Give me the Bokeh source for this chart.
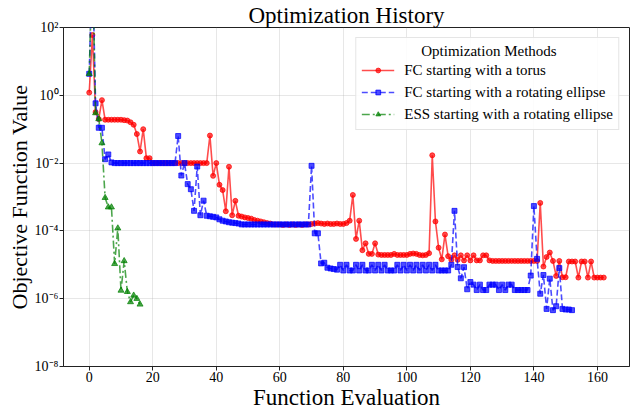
from bokeh.plotting import figure
from bokeh.models import (Range1d, FixedTicker, CustomJSTickFormatter,
                          Legend, LegendItem)
from bokeh.embed import file_html
from bokeh.resources import INLINE

FONT = "Liberation Serif"

# ---------------- data ----------------
title_text = "Optimization History"
x_label_text = "Function Evaluation"
y_label_text = "Objective Function Value"
legend_title = "Optimization Methods"
series_names = ["FC starting with a torus",
                "FC starting with a rotating ellipse",
                "ESS starting with a rotating ellipse"]

x_ticks = [0, 20, 40, 60, 80, 100, 120, 140, 160]
y_ticks = [1e-8, 1e-6, 1e-4, 1e-2, 1e0, 1e2]
y_tick_labels = ["10\u207b\u2078", "10\u207b\u2076", "10\u207b\u2074",
                 "10\u207b\u00b2", "10\u2070", "10\u00b2"]

# FC starting with a torus (evaluations 0..162)
torus_vals = [
    1.2, 60, 0.32, 0.2, 0.72, 0.19, 0.19, 0.19, 0.19, 0.19,
    0.19, 0.185, 0.18, 0.16, 0.135, 0.072, 0.022, 0.1, 0.014, 0.014,
    0.01, 0.01, 0.01, 0.01, 0.01, 0.01, 0.01, 0.01, 0.01, 0.01,
    0.01, 0.01, 0.01, 0.01, 0.01, 0.01, 0.01, 0.01, 0.065, 0.0042,
    0.01, 0.0023, 0.0016, 0.00038, 0.0078, 0.00029, 0.00077, 0.00028, 0.000265, 0.00025,
    0.00024, 0.00023, 0.00021, 0.0002, 0.00019, 0.00018, 0.00017, 0.000165, 0.000155, 0.000155,
    0.000155, 0.00015, 0.000155, 0.00015, 0.000155, 0.00015, 0.000155, 0.00015, 0.000155, 0.000155,
    0.00016, 0.000165, 0.00017, 0.000165, 0.00016, 0.000165, 0.00016, 0.00016, 0.000165, 0.00016,
    0.00016, 0.00017, 0.0002, 0.00115, 5.8e-05, 0.0002, 2.7e-05, 4.3e-05, 2.1e-05, 2.1e-05,
    4.3e-05, 2.0e-05, 1.95e-05, 1.95e-05, 1.95e-05, 1.95e-05, 2.1e-05, 1.95e-05, 1.95e-05, 1.95e-05,
    1.95e-05, 2.1e-05, 2.15e-05, 2.1e-05, 1.95e-05, 1.9e-05, 1.95e-05, 2.2e-05, 0.017, 0.00019,
    3.2e-05, 1.45e-05, 7.8e-05, 1.8e-05, 1.4e-05, 1.9e-05, 1.4e-05, 1.9e-05, 1.35e-05, 1.9e-05,
    1.35e-05, 1.9e-05, 1.35e-05, 1.35e-05, 1.9e-05, 1.9e-05, 1.35e-05, 1.3e-05, 1.3e-05, 1.3e-05,
    1.3e-05, 1.3e-05, 1.3e-05, 1.3e-05, 1.3e-05, 1.3e-05, 1.3e-05, 1.3e-05, 1.3e-05, 1.3e-05,
    1.3e-05, 1.3e-05, 0.00067, 8.9e-06, 1.7e-05, 2.3e-05, 1.3e-05, 4.7e-06, 1.3e-05, 4.3e-06,
    4.3e-06, 1.25e-05, 1.25e-05, 1.25e-05, 4.2e-06, 1.25e-05, 1.25e-05, 4.2e-06, 1.25e-05, 4.2e-06,
    4.2e-06, 4.2e-06, 4.2e-06,
]

# FC starting with a rotating ellipse (evaluations 0..152)
ellipse_vals = [
    4.3, 1e4, 0.58, 0.11, 0.11, 0.013, 0.018, 0.0105, 0.01, 0.01,
    0.01, 0.01, 0.01, 0.01, 0.01, 0.01, 0.01, 0.01, 0.01, 0.01,
    0.01, 0.01, 0.01, 0.01, 0.01, 0.01, 0.01, 0.01, 0.063, 0.0043,
    0.01, 0.0024, 0.0017, 0.00039, 0.0079, 0.00029, 0.00078, 0.00028, 0.00027, 0.00026,
    0.00025, 0.00022, 0.0002, 0.00019, 0.00018, 0.000175, 0.00017, 0.000165, 0.000155, 0.000155,
    0.000155, 0.000155, 0.000155, 0.000155, 0.000155, 0.000155, 0.000155, 0.000155, 0.000155, 0.000155,
    0.000155, 0.000155, 0.000155, 0.000155, 0.000155, 0.000155, 0.000155, 0.000155, 0.000155, 0.000155,
    0.0083, 8.5e-05, 8.5e-05, 1.1e-05, 1.15e-05, 8.2e-06, 7.8e-06, 7.5e-06, 7.2e-06, 1e-05,
    6.8e-06, 1e-05, 6.8e-06, 6.8e-06, 1e-05, 6.8e-06, 1e-05, 6.8e-06, 6.8e-06, 1e-05,
    6.8e-06, 1e-05, 6.8e-06, 1e-05, 6.8e-06, 6.8e-06, 6.8e-06, 1e-05, 6.8e-06, 1e-05,
    6.8e-06, 1e-05, 6.8e-06, 1e-05, 6.8e-06, 1e-05, 6.8e-06, 1e-05, 6.8e-06, 1e-05,
    6.8e-06, 6.8e-06, 6.8e-06, 6.8e-06, 1e-05, 0.00039, 8.6e-06, 4e-06, 8.5e-06, 1.9e-06,
    3.1e-06, 2.6e-06, 1.8e-06, 2.6e-06, 1.8e-06, 1.8e-06, 2.6e-06, 2.6e-06, 2.6e-06, 1.8e-06,
    2.6e-06, 1.8e-06, 2.6e-06, 2.6e-06, 1.8e-06, 1.8e-06, 1.8e-06, 1.8e-06, 1.8e-06, 4.8e-06,
    0.00054, 1.5e-05, 1.4e-06, 5e-06, 5e-07, 3.9e-06, 4.6e-07, 6e-07, 8e-06, 5e-07,
    4.8e-07, 4.8e-07, 4.6e-07,
]

# ESS starting with a rotating ellipse (evaluations 0..16)
ess_vals = [
    4.3, 1e4, 0.3, 0.2, 0.039, 0.00095, 0.0005, 0.0005, 1.07e-05, 0.00012,
    1.75e-06, 1.3e-05, 1.6e-06, 8e-07, 1.25e-06, 1e-06, 6.8e-07,
]

series_vals = [torus_vals, ellipse_vals, ess_vals]
colors = ["red", "blue", "green"]
markers = ["circle", "square", "triangle"]
dashes = ["solid", "6 3", "8 3 2 3"]
msizes = [5, 5, 6]

# ---------------- figure ----------------
X0, X1 = -8.1, 170.1
p = figure(width=634, height=415, x_range=Range1d(X0, X1),
           y_range=Range1d(1e-8, 1e2), y_axis_type="log",
           output_backend="svg", toolbar_location=None,
           min_border_left=63, min_border_right=5,
           min_border_top=26, min_border_bottom=49)
p.background_fill_color = "white"
p.border_fill_color = "white"
p.outline_line_color = "#222222"
p.outline_line_width = 1

p.title.text = title_text
p.title.align = "center"
p.title.text_font = FONT
p.title.text_font_size = "23px"
p.title.text_font_style = "normal"
p.title.text_color = "black"
p.title.standoff = 0
p.title.offset = 0

items = []
for vals, name, c, m, d, ms in zip(series_vals, series_names, colors, markers, dashes, msizes):
    xs = list(range(len(vals)))
    rl = p.line(xs, vals, line_color=c, line_width=1.6, line_alpha=0.7, line_dash=d)
    rs = p.scatter(xs, vals, marker=m, size=ms, fill_color=c, line_color=c,
                   fill_alpha=0.7, line_alpha=0.7)
    items.append(LegendItem(label=name, renderers=[rl, rs]))

# axes
p.xaxis.ticker = FixedTicker(ticks=x_ticks)
p.yaxis.ticker = FixedTicker(ticks=y_ticks, minor_ticks=[])
p.yaxis.formatter = CustomJSTickFormatter(
    args=dict(tvals=y_ticks, tlabels=y_tick_labels),
    code="""
let best = 0, bd = 1e9;
for (let k = 0; k < tvals.length; k++) {
  const d = Math.abs(Math.log10(tvals[k]) - Math.log10(tick));
  if (d < bd) { bd = d; best = k; }
}
return tlabels[best];
""")
p.xaxis.axis_label = x_label_text
p.yaxis.axis_label = y_label_text
for ax, fs in ((p.xaxis[0], "23px"), (p.yaxis[0], "22px")):
    ax.major_label_text_font = FONT
    ax.major_label_text_font_size = "14px"
    ax.major_label_text_color = "black"
    ax.major_tick_out = 4
    ax.major_tick_in = 0
    ax.minor_tick_out = 0
    ax.minor_tick_in = 0
    ax.axis_line_color = "#222222"
    ax.major_tick_line_color = "#222222"
    ax.major_label_standoff = 1
    ax.axis_label_text_font = FONT
    ax.axis_label_text_font_size = fs
    ax.axis_label_text_font_style = "normal"
    ax.axis_label_text_color = "black"
    ax.axis_label_standoff = 0

p.xgrid.ticker = FixedTicker(ticks=x_ticks)
p.ygrid.ticker = FixedTicker(ticks=y_ticks, minor_ticks=[])
for g in (p.xgrid[0], p.ygrid[0]):
    g.grid_line_color = "#b0b0b0"
    g.grid_line_alpha = 0.3
    g.grid_line_width = 1

# legend
legend = Legend(items=items, location="top_right",
                title="\u00a0" * 16 + legend_title)
legend.title_text_font = FONT
legend.title_text_font_size = "15px"
legend.title_text_font_style = "normal"
legend.title_text_color = "black"
legend.title_standoff = 0
legend.label_text_font = FONT
legend.label_text_font_size = "15px"
legend.label_text_color = "black"
legend.glyph_width = 33
legend.glyph_height = 12
legend.label_height = 20
legend.label_standoff = 10
legend.spacing = 2
legend.padding = 5
legend.margin = 10
legend.border_line_color = "#cccccc"
legend.border_line_width = 1
legend.background_fill_color = "white"
legend.background_fill_alpha = 0.85
p.add_layout(legend)

open("out.html", "w").write(file_html(p, INLINE))
